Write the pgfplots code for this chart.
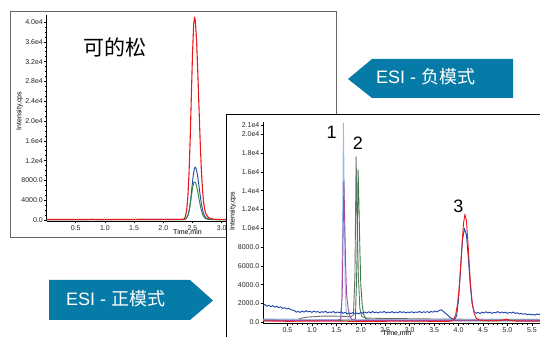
\documentclass[border=0pt]{standalone}
\usepackage{fontspec}
\setmainfont{Liberation Sans}
\newfontfamily\cjk{Noto Sans CJK SC}
\usepackage{pgfplots}
\pgfplotsset{compat=1.18}
\definecolor{esi}{RGB}{6,123,168}
\definecolor{cred}{RGB}{235,25,25}
\definecolor{cblue}{RGB}{30,70,170}
\definecolor{cgreen}{RGB}{50,130,70}
\definecolor{clblue}{RGB}{150,190,235}
\definecolor{cpurple}{RGB}{165,75,165}
\definecolor{cgray}{RGB}{110,110,110}
\pgfplotsset{chrom/.style={scale only axis, axis x line=bottom, axis y line=left,
  axis line style={-, black, line width=0.6bp}, tick align=outside,
  major tick length=2.5bp, minor tick length=1.2bp,
  every tick/.style={black, line width=0.5bp},
  scaled x ticks=false, scaled y ticks=false,
  ticklabel style={font=\fontsize{7bp}{8bp}\selectfont, text=black!85},
  yticklabel style={inner sep=1bp}, xticklabel style={inner sep=1.5bp},
  every axis plot/.append style={line width=0.9bp, line join=round, mark=none},
  minor x tick num=4, minor y tick num=3}}
\begin{document}
\begin{tikzpicture}
\useasboundingbox (0bp,0bp) rectangle (540bp,337bp);
\clip (0bp,0bp) rectangle (540bp,337bp);
% left frame
\draw[black!60, line width=1bp, fill=white] (10bp,325bp) rectangle (336bp,99bp);
\begin{axis}[chrom, at={(46.5bp,116bp)}, anchor=south west, width=292bp, height=206.4bp,
  xmin=0, xmax=5, ymin=-200, ymax=41500,
  xtick={0.5,1,1.5,2,2.5,3,3.5,4,4.5}, xticklabels={0.5,1.0,1.5,2.0,2.5,3.0,3.5,4.0,4.5},
  ytick={0,4000,8000,12000,16000,20000,24000,28000,32000,36000,40000},
  yticklabels={0.0,4000.0,8000.0,1.2e4,1.6e4,2.0e4,2.4e4,2.8e4,3.2e4,3.6e4,4.0e4}]
\addplot[cblue] coordinates {(0,80)(0.7,80)(0.78,140)(0.85,80)(2.37,150)(2.39,280)(2.41,600)(2.43,1200)(2.45,2400)(2.47,4200)(2.49,6500)(2.51,8740)(2.53,10300)(2.545,10700)(2.56,10450)(2.58,9440)(2.60,7850)(2.62,6030)(2.64,4260)(2.66,2770)(2.68,1660)(2.70,930)(2.73,430)(2.77,250)(2.82,150)(2.90,90)(5,80)};
\addplot[cgreen] coordinates {(0,60)(2.34,60)(2.36,110)(2.38,205)(2.40,440)(2.42,920)(2.44,1790)(2.46,3090)(2.48,4740)(2.50,6350)(2.52,7480)(2.535,7700)(2.55,7580)(2.57,6850)(2.59,5710)(2.61,4400)(2.63,3120)(2.65,2050)(2.67,1250)(2.69,730)(2.72,330)(2.76,150)(2.82,80)(2.90,60)(5,60)};
\addplot[cred, line width=1.1bp] coordinates {(0,100)(2.34,100)(2.36,260)(2.38,775)(2.40,2020)(2.42,4590)(2.44,9240)(2.46,16200)(2.48,24900)(2.50,33500)(2.52,39500)(2.535,41000)(2.55,40100)(2.57,36200)(2.59,30100)(2.61,23100)(2.63,16300)(2.65,10600)(2.67,6360)(2.69,3560)(2.72,1500)(2.76,650)(2.80,320)(2.86,160)(2.95,110)(5,100)};
\end{axis}
\node at (115bp,289.5bp) {\cjk\fontsize{21bp}{24bp}\selectfont 可的松};
\node[font=\fontsize{7bp}{8bp}\selectfont] at (187.5bp,105bp) {Time,min};
\node[rotate=90, font=\fontsize{7bp}{8bp}\selectfont] at (19.5bp,226bp) {Intensity,cps};
% right frame
\draw[black, line width=0.8bp, fill=white] (226bp,222.5bp) rectangle (560bp,-20bp);
\begin{axis}[chrom, at={(263bp,13.3bp)}, anchor=south west, width=288.5bp, height=201.6bp,
  xmin=0, xmax=5.9, ymin=-150, ymax=21300,
  xtick={0.5,1,1.5,2,2.5,3,3.5,4,4.5,5,5.5}, xticklabels={0.5,1.0,1.5,2.0,2.5,3.0,3.5,4.0,4.5,5.0,5.5},
  ytick={0,2000,4000,6000,8000,10000,12000,14000,16000,18000,20000,21000},
  yticklabels={0.0,2000.0,4000.0,6000.0,8000.0,1.0e4,1.2e4,1.4e4,1.6e4,1.8e4,2.0e4,2.1e4}]
\addplot[cpurple!60, line width=0.7bp] coordinates {(0,300)(0.3,250)(0.6,320)(0.9,260)(1.2,300)(1.5,280)(2.0,250)(2.5,300)(3.0,260)(3.5,280)(4.0,250)(4.5,270)(5.0,240)(5.5,260)(5.9,250)};
\addplot[cgray] coordinates {(0,300)(0.4,320)(0.7,300)(0.8,450)(0.9,550)(1.2,650)(1.5,650)(1.8,600)(1.85,800)(1.88,5000)(1.905,17600)(1.92,12000)(1.95,5000)(1.98,1500)(2.02,600)(2.1,450)(2.5,400)(3.0,380)(3.5,350)(4.0,330)(4.5,320)(5.0,310)(5.9,300)};
\addplot[cgreen] coordinates {(0,150)(1.3,200)(1.85,220)(1.89,400)(1.92,6000)(1.945,16200)(1.96,13000)(1.98,8000)(2.0,4000)(2.03,1800)(2.06,800)(2.10,400)(2.2,200)(3.0,150)(5.9,150)};
\addplot[clblue] coordinates {(0,350)(0.5,300)(1.0,250)(1.5,250)(1.58,300)(1.61,2000)(1.63,12000)(1.645,21200)(1.66,14000)(1.68,4000)(1.70,1200)(1.74,400)(1.8,250)(3,250)(5.9,250)};
\addplot[cpurple] coordinates {(0,200)(1.5,200)(1.59,300)(1.62,3000)(1.64,10000)(1.655,15000)(1.67,11000)(1.69,6000)(1.71,3000)(1.74,1500)(1.78,600)(1.82,300)(1.9,200)(5.9,200)};
\addplot[cblue] coordinates {(0.00,1750)(0.04,1900)(0.08,1700)(0.12,1820)(0.16,1650)(0.20,1780)(0.24,1600)(0.28,1720)(0.32,1550)(0.36,1650)(0.40,1480)(0.44,1560)(0.48,1420)(0.52,1500)(0.56,1380)(0.60,1300)(0.64,1250)(0.68,1080)(0.72,1150)(0.76,1050)(0.80,1200)(0.84,1080)(0.88,1250)(0.92,1100)(0.96,1180)(1.00,1050)(1.04,1200)(1.08,1080)(1.12,1150)(1.16,1020)(1.20,1130)(1.24,1060)(1.28,1180)(1.32,1000)(1.36,1100)(1.40,1050)(1.44,1150)(1.48,980)(1.52,1100)(1.56,1030)(1.60,1120)(1.64,950)(1.68,1050)(1.72,900)(1.76,1000)(1.80,920)(1.84,1050)(1.88,880)(1.92,980)(1.96,900)(2.00,1050)(2.04,950)(2.08,1100)(2.12,980)(2.16,1120)(2.20,1000)(2.24,1150)(2.28,1020)(2.32,1100)(2.36,980)(2.40,1120)(2.44,1050)(2.48,1150)(2.52,1000)(2.56,1100)(2.60,1030)(2.64,1140)(2.68,990)(2.72,1100)(2.76,1020)(2.80,1150)(2.84,1040)(2.88,1120)(2.92,1000)(2.96,1090)(3.00,1030)(3.04,1130)(3.08,1000)(3.12,1100)(3.16,1050)(3.20,1150)(3.24,1020)(3.28,1120)(3.32,1060)(3.36,1130)(3.40,1040)(3.44,1150)(3.48,1080)(3.52,1200)(3.56,1100)(3.60,1250)(3.64,1330)(3.68,1200)(3.72,1000)(3.76,850)(3.80,650)(3.84,450)(3.88,350)(3.92,320)(3.96,700)(4.00,2500)(4.04,5600)(4.08,8800)(4.12,10000)(4.14,9600)(4.16,9300)(4.20,6800)(4.24,3800)(4.28,1900)(4.32,1100)(4.36,950)(4.40,1050)(4.44,920)(4.48,1080)(4.52,980)(4.56,1120)(4.60,1000)(4.64,1080)(4.68,950)(4.72,1050)(4.76,1000)(4.80,1150)(4.84,980)(4.88,1100)(4.92,1000)(4.96,1080)(5.00,950)(5.04,1050)(5.08,980)(5.12,1100)(5.16,940)(5.20,1020)(5.24,880)(5.28,950)(5.32,850)(5.36,920)(5.40,800)(5.44,880)(5.48,780)(5.52,850)(5.56,760)(5.60,900)(5.64,800)(5.68,950)(5.72,830)(5.76,900)(5.80,850)(5.88,820)};
\addplot[cred] coordinates {(0,150)(0.5,100)(1.0,120)(2.0,100)(3.0,110)(3.80,100)(3.86,150)(3.90,300)(3.94,800)(3.98,2000)(4.02,4200)(4.06,7500)(4.10,10500)(4.13,11500)(4.16,10800)(4.20,7800)(4.24,4300)(4.28,2000)(4.32,900)(4.36,450)(4.42,250)(4.60,150)(4.80,150)(4.90,250)(4.98,320)(5.06,200)(5.20,120)(5.9,100)};
\end{axis}
\node[font=\fontsize{7bp}{8bp}\selectfont] at (397bp,4bp) {Time,min};
\node[rotate=90, font=\fontsize{7bp}{8bp}\selectfont] at (232.7bp,126bp) {Intensity,cps};
\node[font=\fontsize{18bp}{20bp}\selectfont] at (331.7bp,204.5bp) {1};
\node[font=\fontsize{18bp}{20bp}\selectfont] at (358bp,193.7bp) {2};
\node[font=\fontsize{18bp}{20bp}\selectfont] at (458.3bp,131bp) {3};
% arrows
\fill[esi] (348bp,258bp) -- (372bp,278bp) -- (513bp,278bp) -- (513bp,239bp) -- (372bp,239bp) -- cycle;
\node[anchor=base west, inner sep=0, text=white, font=\fontsize{18bp}{20bp}\selectfont] at (376bp,253bp) {ESI - {\cjk 负模式}};
\fill[esi] (49bp,57bp) -- (190bp,57bp) -- (213bp,36.5bp) -- (190bp,17bp) -- (49bp,17bp) -- cycle;
\node[anchor=base west, inner sep=0, text=white, font=\fontsize{18bp}{20bp}\selectfont] at (66bp,31.3bp) {ESI - {\cjk 正模式}};
\end{tikzpicture}
\end{document}
